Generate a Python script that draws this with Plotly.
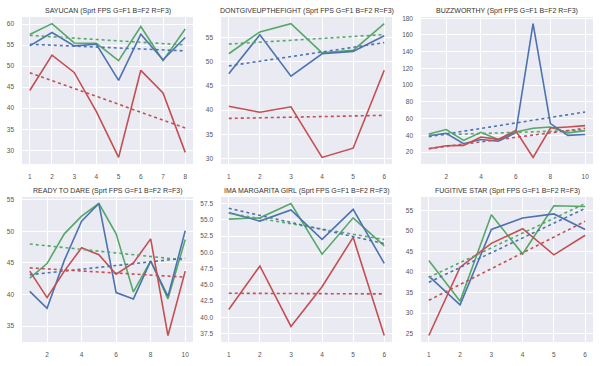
import numpy as np
import plotly.graph_objects as go

titles = ["SAYUCAN (Sprt FPS G=F1 B=F2 R=F3)",
          "DONTGIVEUPTHEFIGHT (Sprt FPS G=F1 B=F2 R=F3)",
          "BUZZWORTHY (Sprt FPS G=F1 B=F2 R=F3)",
          "READY TO DARE (Sprt FPS G=F1 B=F2 R=F3)",
          "IMA MARGARITA GIRL (Sprt FPS G=F1 B=F2 R=F3)",
          "FUGITIVE STAR (Sprt FPS G=F1 B=F2 R=F3)"]

sayucan_g = [57.5, 60.1, 55.5, 55.4, 51.3, 59.4, 51.3, 58.8]
sayucan_b = [54.8, 58.0, 54.8, 55.2, 46.6, 57.6, 51.5, 56.8]
sayucan_r = [44.2, 52.6, 48.5, 39.2, 28.3, 49.0, 43.6, 29.5]

dont_g = [51.6, 56.1, 57.8, 51.8, 52.3, 57.8]
dont_b = [47.5, 55.5, 47.0, 51.6, 52.1, 55.3]
dont_r = [40.8, 39.6, 40.7, 30.3, 32.2, 48.2]

buzz_g = [41.6, 47.0, 34.0, 43.6, 35.0, 44.0, 48.4, 50.0, 43.0, 45.6]
buzz_b = [39.6, 42.4, 30.0, 35.0, 33.0, 43.0, 173.6, 54.0, 40.0, 41.0]
buzz_r = [24.0, 27.6, 28.0, 38.0, 35.2, 45.6, 13.6, 48.8, 50.0, 51.6]

ready_g = [42.6, 44.9, 49.6, 52.4, 54.4, 49.6, 40.4, 45.3, 39.3, 48.7]
ready_b = [40.5, 37.8, 45.4, 51.6, 54.4, 40.3, 39.3, 45.3, 39.7, 50.1]
ready_r = [43.7, 39.5, 43.7, 47.4, 46.3, 43.2, 45.0, 48.8, 33.5, 43.7]

ima_g = [55.1, 55.3, 57.5, 49.7, 55.3, 51.0]
ima_b = [56.1, 54.8, 56.5, 52.0, 56.6, 48.3]
ima_r = [41.2, 47.9, 38.6, 44.7, 52.3, 37.2]

fug_g = [42.8, 32.9, 54.0, 44.4, 56.2, 56.0]
fug_b = [39.0, 32.0, 50.4, 53.2, 54.2, 50.4]
fug_r = [24.5, 41.2, 47.0, 50.6, 44.2, 49.0]

panels = [
    (sayucan_g, sayucan_b, sayucan_r),
    (dont_g, dont_b, dont_r),
    (buzz_g, buzz_b, buzz_r),
    (ready_g, ready_b, ready_r),
    (ima_g, ima_b, ima_r),
    (fug_g, fug_b, fug_r),
]

x_tick_step = [1, 1, 2, 2, 1, 1]
y_tick_vals = [
    [30, 35, 40, 45, 50, 55, 60],
    [30, 35, 40, 45, 50, 55],
    [20, 40, 60, 80, 100, 120, 140, 160, 180],
    [35, 40, 45, 50, 55],
    [37.5, 40.0, 42.5, 45.0, 47.5, 50.0, 52.5, 55.0, 57.5],
    [25, 30, 35, 40, 45, 50, 55],
]

colors = ["#55A868", "#4C72B0", "#C44E52"]  # G, B, R

W, H = 600, 366
col_px = [(22, 193), (221, 392), (421, 593)]
row_px = [(15, 163), (196, 342)]
FONT = "Liberation Sans, Arial, sans-serif"

fig = go.Figure()
annotations = []
for i, series in enumerate(panels):
    r, c = divmod(i, 3)
    n = len(series[0])
    xs = list(range(1, n + 1))
    ax = "" if i == 0 else str(i + 1)
    xa, ya = "x" + ax, "y" + ax
    allv = []
    for s, col in zip(series, colors):
        fig.add_trace(go.Scatter(x=xs, y=s, mode="lines", xaxis=xa, yaxis=ya,
                                 line=dict(color=col, width=1.6), showlegend=False))
        allv += s
    for s, col in zip(series, colors):
        k, b = np.polyfit(xs, s, 1)
        ty = [k * xs[0] + b, k * xs[-1] + b]
        fig.add_trace(go.Scatter(x=[xs[0], xs[-1]], y=ty, mode="lines", xaxis=xa, yaxis=ya,
                                 line=dict(color=col, width=1.6, dash="dot"), showlegend=False))
        allv += ty
    lo, hi = min(allv), max(allv)
    pad = 0.05 * (hi - lo)
    xpad = 0.05 * (n - 1)
    x0, x1 = col_px[c]
    y0, y1 = row_px[r]
    step = x_tick_step[i]
    xt = list(range(step, n + 1, step)) if step > 1 else xs
    fmt = ".1f" if i == 4 else ""
    common = dict(showline=False, zeroline=False, gridcolor="white", gridwidth=1,
                  ticks="", tickfont=dict(size=6.5, color="#555555", family=FONT))
    fig.layout[("xaxis" + ax)] = dict(domain=[x0 / W, x1 / W], anchor=ya,
                                      range=[1 - xpad, n + xpad], tickvals=xt,
                                      ticklabelstandoff=7, **common)
    fig.layout[("yaxis" + ax)] = dict(domain=[1 - y1 / H, 1 - y0 / H], anchor=xa,
                                      range=[lo - pad, hi + pad], tickvals=y_tick_vals[i],
                                      tickformat=fmt, ticklabelstandoff=7, **common)
    annotations.append(dict(text=titles[i], x=(x0 + x1) / 2 / W, y=1 - (y0 - 6) / H,
                            xref="paper", yref="paper", showarrow=False,
                            xanchor="center", yanchor="middle",
                            font=dict(size=7, color="#333333", family=FONT)))

fig.update_layout(width=W, height=H, margin=dict(l=0, r=0, t=0, b=0),
                  paper_bgcolor="white", plot_bgcolor="#EAEAF2",
                  annotations=annotations, hovermode=False)
fig.write_html("out.html", config={"displayModeBar": False},
               post_script="document.body.style.margin='0';document.body.style.overflow='hidden';")
